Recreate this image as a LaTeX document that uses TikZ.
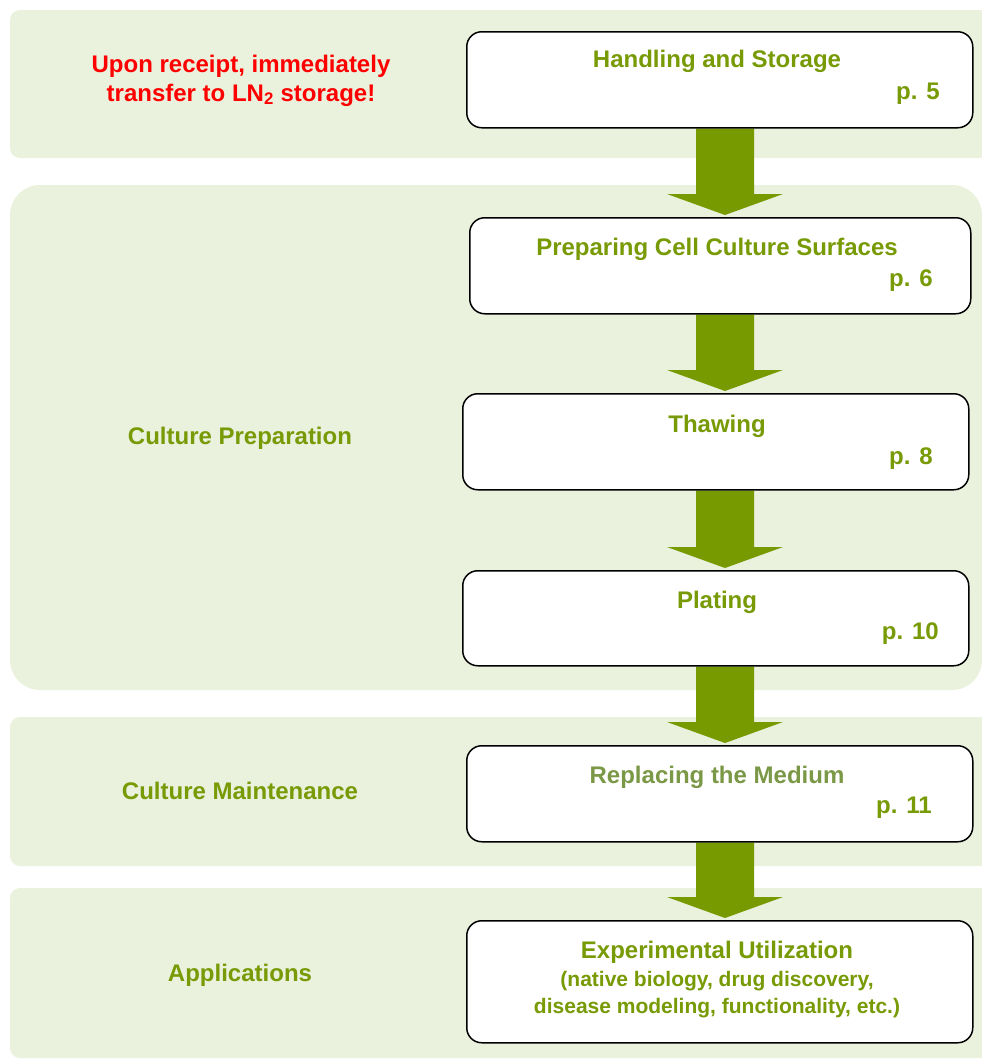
\documentclass[tikz,border=0pt]{standalone}
\usepackage{fontspec}
\setmainfont{Liberation Sans}
\usetikzlibrary{calc,backgrounds}
\definecolor{bandc}{HTML}{EAF1DD}
\definecolor{arrowc}{HTML}{779A00}
\definecolor{txtc}{HTML}{779A05}
\definecolor{softc}{HTML}{7A9846}
\definecolor{redc}{HTML}{FF0000}
\newcommand\flowarr[2]{%
  \fill[arrowc] ($(#1.south -| ax)+(-29,0)$) -- ($(#2.north -| ax)+(-29,-23)$)
    -- ($(#2.north -| ax)+(-58,-23)$) -- ($(#2.north -| ax)+(0,-2)$)
    -- ($(#2.north -| ax)+(58,-23)$) -- ($(#2.north -| ax)+(29,-23)$)
    -- ($(#1.south -| ax)+(29,0)$) -- cycle;}
\begin{document}
\begin{tikzpicture}[x=1pt,y=-1pt,
  band/.style={fill=bandc},
  stepbox/.style={draw=black, line width=1.5pt, fill=white, rounded corners=15pt, anchor=north west, inner sep=0pt},
  ttl/.style={font=\fontsize{24}{28}\selectfont\bfseries, text=txtc, anchor=base, inner sep=0pt},
  pg/.style={font=\fontsize{24}{28}\selectfont\bfseries, text=txtc, anchor=base east, inner sep=0pt},
  sub/.style={font=\fontsize{21}{26}\selectfont\bfseries, text=txtc, anchor=base, inner sep=0pt},
  side/.style={font=\fontsize{24}{28}\selectfont\bfseries, text=txtc, anchor=base, inner sep=0pt},
  warn/.style={font=\fontsize{24}{28}\selectfont\bfseries, text=redc, anchor=base, inner sep=0pt}]
\useasboundingbox (0,0) rectangle (982,1061);
\coordinate (ax) at (725,0);
% background bands
\begin{scope}[on background layer]
  \clip (0,0) rectangle (982,1061);
  \fill[band, rounded corners=10pt] (10,10) rectangle (1010,158);
  \fill[band, rounded corners=30pt] (10,185) rectangle (982,690);
  \fill[band, rounded corners=10pt] (10,717) rectangle (1010,866);
  \fill[band, rounded corners=10pt] (10,888) rectangle (1010,1058);
\end{scope}
% boxes
\node[stepbox, minimum width=506, minimum height=96] (b1) at (466,31) {};
\node[stepbox, minimum width=501, minimum height=96] (b2) at (469,217) {};
\node[stepbox, minimum width=506, minimum height=96] (b3) at (462,393) {};
\node[stepbox, minimum width=506, minimum height=95] (b4) at (462,570) {};
\node[stepbox, minimum width=506, minimum height=96] (b5) at (466,745) {};
\node[stepbox, minimum width=506, minimum height=122] (b6) at (466,920) {};
% box texts
\node[ttl] (t1) at (717,67) {Handling and Storage};
\node[pg] (p1) at (940,99) {p. 5};
\node[ttl] (t2) at (717,255) {Preparing Cell Culture Surfaces};
\node[pg] (p2) at (933,286) {p. 6};
\node[ttl] (t3) at (717,432) {Thawing};
\node[pg] (p3) at (933,464) {p. 8};
\node[ttl] (t4) at (717,608) {Plating};
\node[pg] (p4) at (939,639) {p. 10};
\node[ttl, text=softc] (t5) at (717,783) {Replacing the Medium};
\node[pg] (p5) at (932,813) {p. 11};
\node[ttl] (t6) at (717,958) {Experimental Utilization};
\node[sub] (s6a) at (717,986) {(native biology, drug discovery,};
\node[sub] (s6b) at (717,1013) {disease modeling, functionality, etc.)};
% side labels
\node[warn] (w1) at (241,72) {Upon receipt, immediately};
\node[warn] (w2) at (241,101) {transfer to LN\textsubscript{2} storage!};
\node[side] (l1) at (240,444) {Culture Preparation};
\node[side] (l2) at (240,799) {Culture Maintenance};
\node[side] (l3) at (240,981) {Applications};
% arrows
\begin{scope}[on background layer]
  \flowarr{b1}{b2}
  \flowarr{b2}{b3}
  \flowarr{b3}{b4}
  \flowarr{b4}{b5}
  \flowarr{b5}{b6}
\end{scope}
\end{tikzpicture}
\end{document}
